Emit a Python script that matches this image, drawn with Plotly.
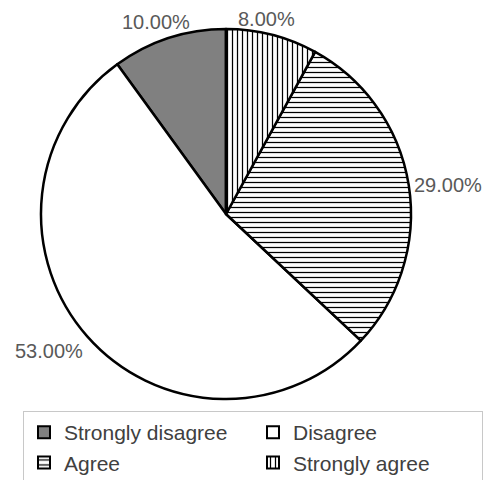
import math
import plotly.graph_objects as go

labels = ["Strongly disagree", "Disagree", "Agree", "Strongly agree"]
values = [10, 53, 29, 8]
colors = ["#808080", "#ffffff", "#ffffff", "#ffffff"]
patterns = ["", "", "-", "|"]

W, H = 483, 480
dom_x = [41 / W, 411 / W]
dom_y = [81 / H, 451 / H]
total = sum(values)

fig = go.Figure(go.Pie(
    labels=labels,
    values=values,
    sort=False,
    direction="counterclockwise",
    rotation=-values[0] / total * 360,
    textinfo="none",
    hoverinfo="label+percent",
    marker=dict(colors=colors, line=dict(color="black", width=2.5),
                pattern=dict(shape=patterns, size=5, solidity=0.25, fgcolor="black", bgcolor="white")),
    domain=dict(x=dom_x, y=dom_y),
    showlegend=True,
))

# percent labels placed just outside each slice (computed from the data)
cx = (dom_x[0] + dom_x[1]) / 2
cy = (dom_y[0] + dom_y[1]) / 2
rpx = min((dom_x[1] - dom_x[0]) * W, (dom_y[1] - dom_y[0]) * H) / 2
cum = 0
for v in values:
    mid = (cum + v / 2) / total * 2 * math.pi  # from 12 o'clock, counterclockwise
    cum += v
    s, c = -math.sin(mid), math.cos(mid)
    rr = rpx + 3
    if abs(s) < 0.5:
        xa, shift = "center", (-12 if s < 0 else -6)
    else:
        xa, shift = ("left" if s > 0 else "right"), 0
    ya = "middle" if abs(c) < 0.5 else ("bottom" if c > 0 else "top")
    fig.add_annotation(
        x=cx + rr * s / W, y=cy + rr * c / H, xref="paper", yref="paper",
        xshift=shift,
        text=f"{v / total * 100:.2f}%", showarrow=False,
        xanchor=xa, yanchor=ya,
        font=dict(family="Liberation Sans, Arial", size=20, color="#595959"),
    )

fig.update_layout(
    width=W, height=H,
    margin=dict(l=0, r=0, t=0, b=0, autoexpand=False),
    paper_bgcolor="white",
    legend=dict(orientation="h", x=23 / W, y=69 / H, xanchor="left", yanchor="top",
                entrywidth=184, entrywidthmode="pixels",
                font=dict(family="Liberation Sans, Arial", size=21, color="#404040"),
                bordercolor="#c8c8c8", borderwidth=1, itemsizing="constant",
                tracegroupgap=0),
)

fig.write_html("out.html")
